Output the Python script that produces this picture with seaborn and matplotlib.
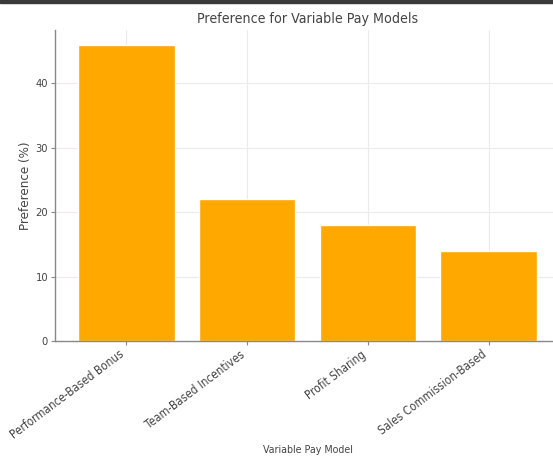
import matplotlib
matplotlib.use("Agg")
import matplotlib.pyplot as plt
from matplotlib.patches import Rectangle
import pandas as pd
import seaborn as sns

# Survey results: share of respondents preferring each variable pay model
models = [
    "Performance-Based Bonus",
    "Team-Based Incentives",
    "Profit Sharing",
    "Sales Commission-Based",
]
preference = [46, 22, 18, 14]
y_ticks = [0, 10, 20, 30, 40]

df = pd.DataFrame({"Variable Pay Model": models, "Preference (%)": preference})

sns.set_theme(style="whitegrid")
plt.rcParams["font.family"] = ["DejaVu Sans"]
plt.rcParams["font.stretch"] = "condensed"

fig = plt.figure(figsize=(5.53, 4.61), dpi=100)
ax = fig.add_axes([55 / 553, 120 / 461, 505 / 553, 311 / 461])

sns.barplot(
    data=df, x="Variable Pay Model", y="Preference (%)",
    color="#FFA800", saturation=1, width=0.8, ax=ax, zorder=2,
)

ax.set_xlim(-0.59, 3.59)
ax.set_ylim(0, 48.3)
ax.set_yticks(y_ticks)
ax.grid(True, color="#ebebeb", linewidth=0.8, zorder=0)
ax.set_axisbelow(True)

for side in ("top", "right"):
    ax.spines[side].set_visible(False)
for side in ("left", "bottom"):
    ax.spines[side].set_color("#888888")
    ax.spines[side].set_linewidth(1.0)
ax.tick_params(axis="both", which="major", length=3, width=0.8,
               color="#888888", labelsize=8, labelcolor="#444444",
               bottom=True, left=True, pad=2)
ax.tick_params(axis="x", labelsize=8.4)

plt.setp(ax.get_xticklabels(), rotation=37, ha="right")

ax.set_title("Preference for Variable Pay Models", fontsize=10.2,
             color="#444444", pad=5)
ax.set_xlabel("Variable Pay Model", fontsize=7.7, color="#444444")
ax.set_ylabel("Preference (%)", fontsize=9.5, color="#444444")
ax.xaxis.set_label_coords(0.5, -0.335)
ax.yaxis.set_label_coords(-0.045, 0.5)

# dark strip along the top edge of the canvas
fig.patches.append(Rectangle((0, 1 - 3 / 461), 1, 3 / 461,
                             transform=fig.transFigure, color="#3a3a3a",
                             zorder=10))

fig.savefig("out.png", dpi=100)
